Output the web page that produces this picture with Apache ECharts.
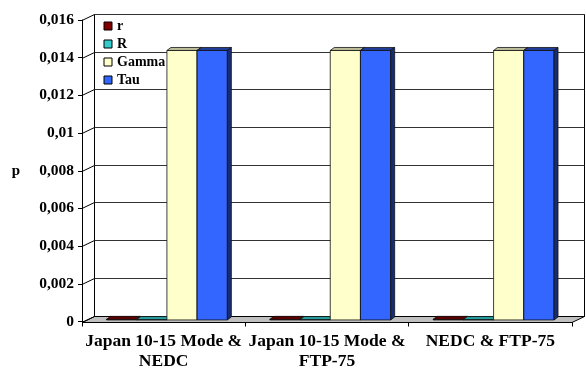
<!DOCTYPE html>
<html>
<head>
<meta charset="utf-8">
<script src="https://cdn.jsdelivr.net/npm/echarts@6/dist/echarts.min.js"></script>
<style>
  html, body { margin: 0; padding: 0; background: #fff; }
  #chart { width: 586px; height: 370px; }
</style>
</head>
<body>
<div id="chart"></div>
<script>
// Cycle pairs compared on the x axis
const categories = ['Japan 10-15 Mode &\nNEDC', 'Japan 10-15 Mode &\nFTP-75', 'NEDC & FTP-75'];

// p-values per statistic
const rValues = [0.00003, 0.00003, 0.00003];
const RValues = [0.00002, 0.00002, 0.00002];
const gammaValues = [0.0143, 0.0143, 0.0143];
const tauValues = [0.0143, 0.0143, 0.0143];

// Value axis ticks
const yTicks = [0, 0.002, 0.004, 0.006, 0.008, 0.01, 0.012, 0.014, 0.016];

const FONT = '"Liberation Serif", "Times New Roman", serif';

// Depth of the box (back wall offset) and of the columns
const DX = 12.5, DY = -6;
const F = 0.26;          // front face of columns sits this far into the depth
const BDX = 4, BDY = -3; // column depth
const BAR_FRAC = 0.185;  // column width as a share of the category band

const seriesDefs = [
  { name: 'r', values: rValues, front: '#800000', top: '#5e0000', side: '#4a0000' },
  { name: 'R', values: RValues, front: '#33CCCC', top: '#2a9f9f', side: '#1f8080' },
  { name: 'Gamma', values: gammaValues, front: '#FFFFCC', top: '#bdbd9a', side: '#9c9c7c' },
  { name: 'Tau', values: tauValues, front: '#3366FF', top: '#1f3d99', side: '#172d73' }
];

function crisp(v) { return Math.round(v) + 0.5; }

function renderWalls(params, api) {
  const cs = params.coordSys;
  const v = api.value(0);
  const y = crisp(api.coord([0, v])[1]);
  const x0 = cs.x, x1 = cs.x + cs.width;
  const lineStyle = { stroke: '#000', lineWidth: 1 };
  const children = [];
  if (params.dataIndex === 0) {
    const yTop = crisp(cs.y), yBot = crisp(cs.y + cs.height);
    children.push({
      type: 'rect',
      shape: { x: x0 + DX, y: yTop + DY, width: cs.width, height: yBot - yTop },
      style: { fill: '#fff', stroke: '#000', lineWidth: 1 }
    });
    children.push({
      type: 'polygon',
      shape: { points: [[x0, yBot], [x1, yBot], [x1 + DX, yBot + DY], [x0 + DX, yBot + DY]] },
      style: { fill: '#c0c0c0', stroke: '#000', lineWidth: 1 }
    });
  }
  children.push({ type: 'line', shape: { x1: x0, y1: y, x2: x0 + DX, y2: y + DY }, style: lineStyle });
  if (v > 0) {
    children.push({ type: 'line', shape: { x1: x0 + DX, y1: y + DY, x2: x1 + DX, y2: y + DY }, style: { stroke: '#333', lineWidth: 1 } });
  }
  return { type: 'group', children: children };
}

function makeBarRenderer(si, def) {
  return function (params, api) {
    const cat = api.value(0), val = api.value(1);
    const c = api.coord([cat, val]);
    const base = api.coord([cat, 0]);
    const band = api.size([1, 0])[0];
    const bw = band * BAR_FRAC;
    const left = c[0] - 2 * bw + si * bw + F * DX;
    const right = left + bw;
    const top = c[1] + F * DY;
    const bot = base[1] + F * DY;
    const edge = { stroke: '#111', lineWidth: 0.8 };
    return {
      type: 'group',
      children: [
        { type: 'polygon', shape: { points: [[left, top], [right, top], [right, bot], [left, bot]] },
          style: Object.assign({ fill: def.front }, edge) },
        { type: 'polygon', shape: { points: [[left, top], [right, top], [right + BDX, top + BDY], [left + BDX, top + BDY]] },
          style: Object.assign({ fill: def.top }, edge) },
        { type: 'polygon', shape: { points: [[right, top], [right + BDX, top + BDY], [right + BDX, bot + BDY], [right, bot]] },
          style: Object.assign({ fill: def.side }, edge) }
      ]
    };
  };
}

const chart = echarts.init(document.getElementById('chart'), null, { renderer: 'canvas' });

const series = [{
  type: 'custom',
  name: '__walls',
  renderItem: renderWalls,
  data: yTicks.map(v => [v]),
  encode: { y: 0 },
  silent: true,
  z: 1
}];

seriesDefs.forEach((def, si) => {
  series.push({
    type: 'custom',
    name: def.name,
    renderItem: makeBarRenderer(si, def),
    itemStyle: { color: def.front },
    data: def.values.map((v, i) => [i, v]),
    encode: { x: 0, y: 1 },
    z: 3
  });
});

chart.setOption({
  animation: false,
  backgroundColor: '#fff',
  grid: { left: 82, top: 20, width: 490, height: 301.5, containLabel: false, outerBoundsMode: 'none' },
  legend: {
    data: seriesDefs.map(d => d.name),
    orient: 'vertical',
    left: 103.5,
    top: 19,
    padding: 0,
    itemWidth: 8,
    itemHeight: 8,
    itemGap: 4,
    icon: 'rect',
    itemStyle: { borderColor: '#000', borderWidth: 1 },
    textStyle: { fontFamily: FONT, fontWeight: 'bold', fontSize: 14, color: '#000', lineHeight: 14 },
    z: 10
  },
  xAxis: {
    type: 'category',
    data: categories,
    boundaryGap: true,
    axisLine: { show: true, lineStyle: { color: '#000', width: 1 } },
    axisTick: { show: true, length: 5, inside: false, alignWithLabel: false, lineStyle: { color: '#000' } },
    axisLabel: { interval: 0, margin: 10, fontFamily: FONT, fontWeight: 'bold', fontSize: 17.5, color: '#000', lineHeight: 20 },
    splitLine: { show: false }
  },
  yAxis: {
    type: 'value',
    min: 0,
    max: 0.016,
    interval: 0.002,
    name: 'p',
    nameLocation: 'middle',
    nameGap: 62,
    nameRotate: 0,
    nameTextStyle: { fontFamily: FONT, fontWeight: 'bold', fontSize: 15, color: '#000' },
    axisLine: { show: true, lineStyle: { color: '#000', width: 1 } },
    axisTick: { show: true, length: 4, lineStyle: { color: '#000' } },
    axisLabel: {
      margin: 8,
      fontFamily: FONT, fontWeight: 'bold', fontSize: 15.5, color: '#000',
      formatter: v => String(+v.toFixed(6)).replace('.', ',')
    },
    splitLine: { show: false }
  },
  series: series
});
</script>
</body>
</html>
